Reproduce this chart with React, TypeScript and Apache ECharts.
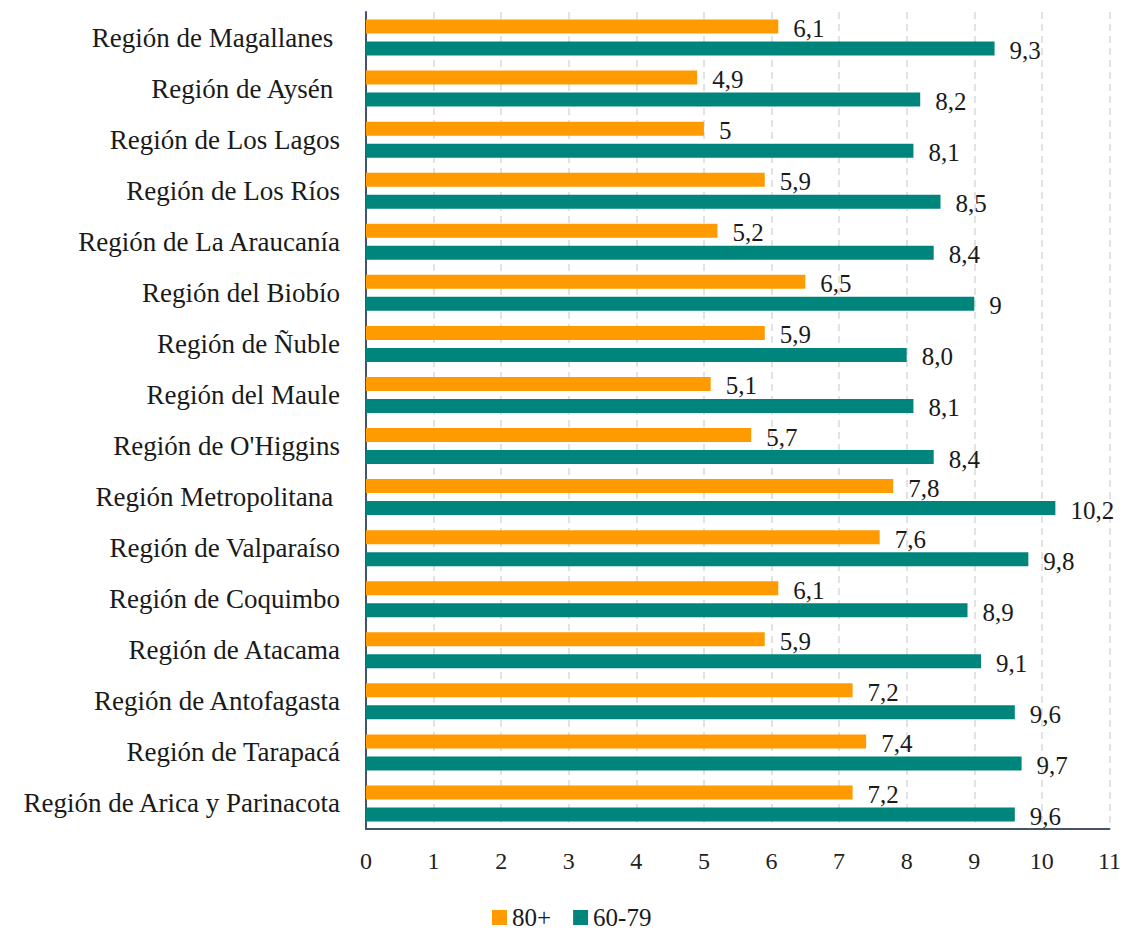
import React, { useEffect, useRef } from "react";
import * as echarts from "echarts";

const categories = [
  "Región de Magallanes ",
  "Región de Aysén ",
  "Región de Los Lagos",
  "Región de Los Ríos",
  "Región de La Araucanía",
  "Región del Biobío",
  "Región de Ñuble",
  "Región del Maule",
  "Región de O'Higgins",
  "Región Metropolitana ",
  "Región de Valparaíso",
  "Región de Coquimbo",
  "Región de Atacama",
  "Región de Antofagasta",
  "Región de Tarapacá",
  "Región de Arica y Parinacota",
];

const values80 = [6.1, 4.9, 5, 5.9, 5.2, 6.5, 5.9, 5.1, 5.7, 7.8, 7.6, 6.1, 5.9, 7.2, 7.4, 7.2];
const labels80 = ["6,1", "4,9", "5", "5,9", "5,2", "6,5", "5,9", "5,1", "5,7", "7,8", "7,6", "6,1", "5,9", "7,2", "7,4", "7,2"];
const values6079 = [9.3, 8.2, 8.1, 8.5, 8.4, 9, 8.0, 8.1, 8.4, 10.2, 9.8, 8.9, 9.1, 9.6, 9.7, 9.6];
const labels6079 = ["9,3", "8,2", "8,1", "8,5", "8,4", "9", "8,0", "8,1", "8,4", "10,2", "9,8", "8,9", "9,1", "9,6", "9,7", "9,6"];
const xTicks = ["0", "1", "2", "3", "4", "5", "6", "7", "8", "9", "10", "11"];

const FONT = "Liberation Serif";
const ORANGE = "#FF9A00";
const TEAL = "#00857D";

export default function App() {
  const ref = useRef<HTMLDivElement>(null);
  useEffect(() => {
    document.body.style.margin = "0";
    if (!ref.current) return;
    const chart = echarts.init(ref.current, null, { renderer: "svg" });
    const labelStyle = (labels: string[]) => ({
      show: true,
      position: "right" as const,
      distance: 15,
      offset: [0, 2],
      fontFamily: FONT,
      fontSize: 25,
      color: "#1a1a1a",
      formatter: (p: any) => labels[p.dataIndex],
    });
    chart.setOption({
      animation: false,
      textStyle: { fontFamily: FONT },
      grid: { left: 366, right: 14, top: 12, bottom: 103, containLabel: false },
      legend: {
        data: ["80+", "60-79"],
        left: 492,
        top: 905,
        padding: 0,
        icon: "rect",
        itemWidth: 15,
        itemHeight: 15,
        itemGap: 22,
        textStyle: {
          fontFamily: FONT,
          fontSize: 25,
          lineHeight: 20,
          color: "#1a1a1a",
        },
      },
      xAxis: {
        type: "value",
        min: 0,
        max: 11,
        interval: 1,
        axisLine: { show: true, lineStyle: { color: "#44546A", width: 2 } },
        axisTick: { show: false },
        axisLabel: {
          fontFamily: FONT,
          fontSize: 24,
          color: "#222",
          margin: 20,
          formatter: (v: number) => xTicks[Math.round(v)] ?? String(v),
        },
        splitLine: { show: true, lineStyle: { color: "#D9D9D9", width: 1.5, type: [7, 5] } },
      },
      yAxis: {
        type: "category",
        inverse: true,
        data: categories,
        axisLine: { show: true, lineStyle: { color: "#44546A", width: 2 } },
        axisTick: { show: false },
        axisLabel: { fontFamily: FONT, fontSize: 27, color: "#1a1a1a", margin: 26 },
      },
      series: [
        {
          name: "80+",
          type: "bar",
          data: values80,
          barWidth: 14,
          barGap: "57%",
          itemStyle: { color: ORANGE },
          label: labelStyle(labels80),
        },
        {
          name: "60-79",
          type: "bar",
          data: values6079,
          barWidth: 14,
          barGap: "57%",
          itemStyle: { color: TEAL },
          label: labelStyle(labels6079),
        },
      ],
    });
    return () => chart.dispose();
  }, []);
  return <div ref={ref} style={{ width: 1124, height: 932 }} />;
}
